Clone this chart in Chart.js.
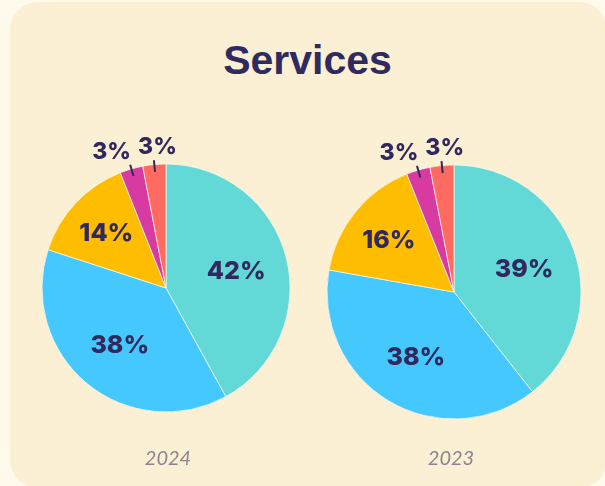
<!DOCTYPE html>
<html>
<head>
<meta charset="utf-8">
<script src="https://cdn.jsdelivr.net/npm/chart.js@4.4.1/dist/chart.umd.min.js"></script>
<style>
  body { margin: 0; background: #fffaec; width: 605px; height: 486px; overflow: hidden; position: relative; }
  #panel { position: absolute; left: 10px; top: 2px; width: 597px; height: 486px; border-radius: 28px; background: #fcf0d4; }
  #title { position: absolute; left: 0; width: 615px; top: 37px; line-height: 41px; text-align: center;
           font: bold 41px "Liberation Sans", Arial, sans-serif; color: #2f2a5f; }
  canvas { position: absolute; }
  .year { position: absolute; width: 100px; top: 445px; line-height: 20px; text-align: center;
          font: italic 20px Lato, sans-serif; color: #8c8392; }
</style>
</head>
<body>
<div id="panel"></div>
<div id="title">Services</div>
<canvas id="pie2024" width="288" height="320" style="left:22px; top:128px;"></canvas>
<canvas id="pie2023" width="288" height="320" style="left:310px; top:132px;"></canvas>
<div class="year" id="label2024" style="left:118px;"></div>
<div class="year" id="label2023" style="left:401px;"></div>
<script>
// Chart data
const services = ['Service 1', 'Service 2', 'Service 3', 'Service 4', 'Service 5'];
const years = ['2024', '2023'];
const share2024 = [42, 38, 14, 3, 3];
const share2023 = [39, 38, 16, 3, 3];

const sliceColors = ['#62d9d6', '#45c8fe', '#ffbd00', '#d73ba1', '#ff6b61'];
const INK = '#31285e';

// Draws the percentage labels: inside for big slices, outside with a short line for small ones
const pieLabels = {
    id: 'pieLabels',
    afterDatasetsDraw(chart) {
        const ctx = chart.ctx;
        const values = chart.data.datasets[0].data;
        const outside = [];
        ctx.save();
        ctx.fillStyle = INK;
        ctx.strokeStyle = INK;
        ctx.textAlign = 'center';
        ctx.textBaseline = 'alphabetic';

        chart.getDatasetMeta(0).data.forEach(function(arc, i) {
            const p = arc.getProps(['x', 'y', 'startAngle', 'endAngle', 'outerRadius'], true);
            const mid = (p.startAngle + p.endAngle) / 2;
            const dx = Math.cos(mid), dy = Math.sin(mid);
            const text = values[i] + '%';
            if (values[i] >= 10) {
                const k = values[i] >= 30 ? 0.585 : 0.66;
                ctx.font = '800 25px Inter';
                ctx.fillText(text, p.x + dx * k * p.outerRadius, p.y + dy * k * p.outerRadius + 0.3635 * 25);
            } else {
                // leader line
                ctx.lineWidth = 2;
                ctx.beginPath();
                ctx.moveTo(p.x + dx * 0.94 * p.outerRadius, p.y + dy * 0.94 * p.outerRadius);
                ctx.lineTo(p.x + dx * 1.035 * p.outerRadius, p.y + dy * 1.035 * p.outerRadius);
                ctx.stroke();
                ctx.font = '800 23px Inter';
                outside.push({
                    text: text,
                    x: p.x + dx * 1.15 * p.outerRadius,
                    y: p.y + dy * 1.15 * p.outerRadius,
                    w: ctx.measureText(text).width
                });
            }
        });

        // push overlapping outside labels apart
        outside.sort(function(a, b) { return a.x - b.x; });
        for (let i = 1; i < outside.length; i++) {
            const a = outside[i - 1], b = outside[i];
            const need = a.w / 2 + b.w / 2 + 7;
            const gap = b.x - a.x;
            if (gap < need && Math.abs(a.y - b.y) < 24) {
                const d = need - gap;
                a.x -= d * 0.75;
                b.x += d * 0.25;
            }
        }
        ctx.font = '800 23px Inter';
        outside.forEach(function(l) {
            ctx.fillText(l.text, l.x, l.y + 0.3635 * 23);
        });
        ctx.restore();
    }
};

function makePie(id, values, radius) {
    return new Chart(document.getElementById(id), {
        type: 'pie',
        data: {
            labels: services,
            datasets: [{
                data: values,
                backgroundColor: sliceColors,
                borderColor: 'rgba(255, 250, 236, 0.7)',
                borderWidth: 1,
                radius: radius
            }]
        },
        options: {
            responsive: false,
            animation: false,
            events: [],
            devicePixelRatio: 1,
            layout: { padding: 0 },
            plugins: {
                legend: { display: false },
                tooltip: { enabled: false }
            }
        },
        plugins: [pieLabels]
    });
}

makePie('pie2024', share2024, 124);
makePie('pie2023', share2023, 127);

document.getElementById('label2024').textContent = years[0];
document.getElementById('label2023').textContent = years[1];
</script>
</body>
</html>
